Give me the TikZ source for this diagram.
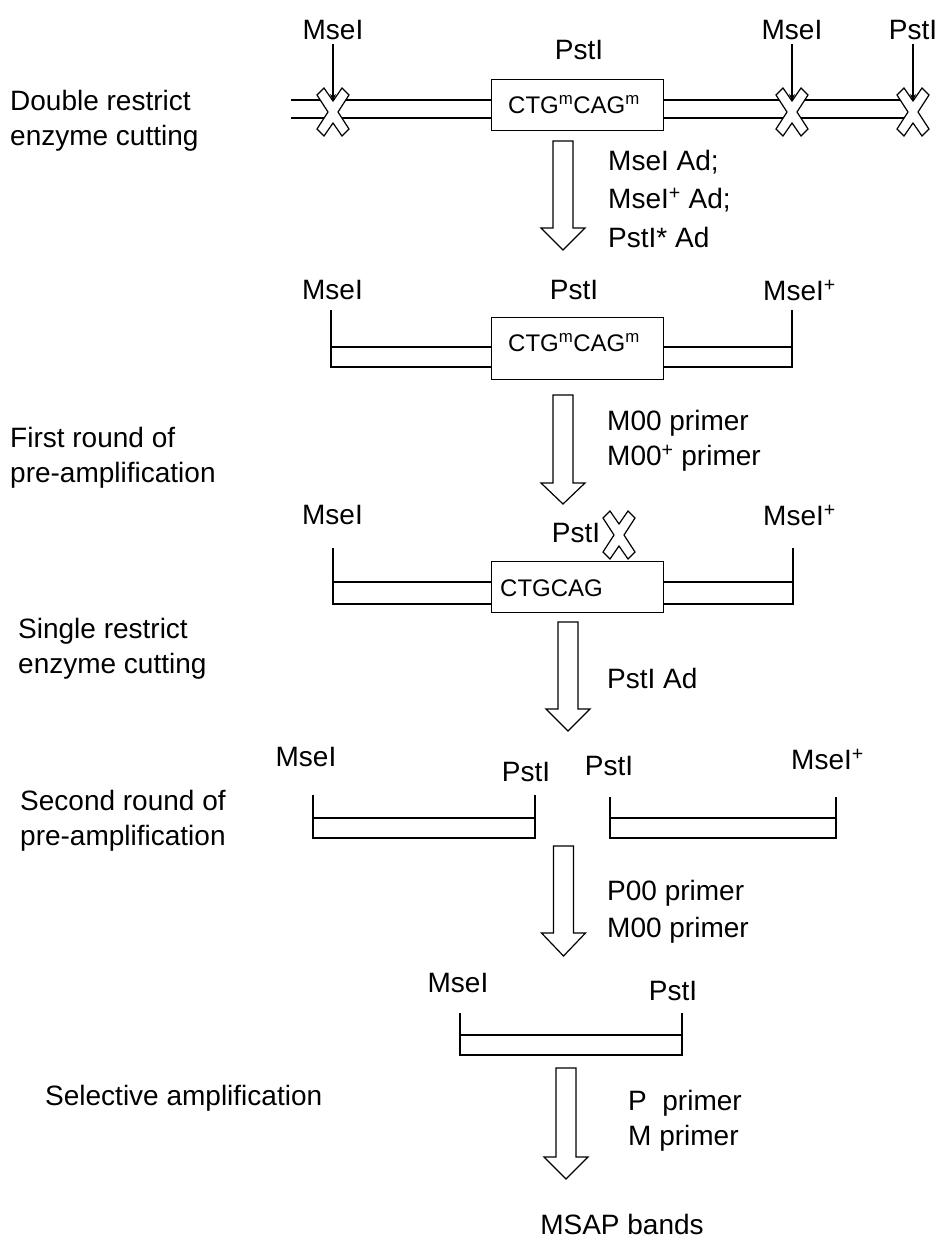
\documentclass[tikz,border=0pt]{standalone}
\usepackage{fontspec}
\setmainfont{Liberation Sans}
\usetikzlibrary{arrows.meta}
\newcommand\xcross[2]{%
  \draw[cross, shift={(#1,#2)}] (-16,-17) -- (-9,-24) -- (0,-11) -- (9,-24) -- (16,-17) -- (5,0)
    -- (16,17) -- (9,24) -- (0,11) -- (-9,24) -- (-16,17) -- (-5,0) -- cycle;}
\newcommand\blockarrow[4]{% x, top, head top, tip
  \draw[blk] ({#1-10},#2) -- ({#1+10},#2) -- ({#1+10},#3) -- ({#1+22},#3) -- (#1,#4)
    -- ({#1-22},#3) -- ({#1-10},#3) -- cycle;}
\begin{document}
\begin{tikzpicture}[x=1pt,y=-1pt,
  lab/.style={font=\fontsize{28}{34}\selectfont, inner sep=0pt},
  side/.style={font=\fontsize{28}{35}\selectfont, align=left, anchor=north west, inner sep=0pt},
  note/.style={font=\fontsize{28}{#1}\selectfont, align=left, anchor=north west, inner sep=0pt},
  seq/.style={font=\fontsize{24}{28}\selectfont, inner sep=0pt, anchor=west},
  seqbox/.style={draw, line width=1.3pt, fill=white, minimum width=172pt, minimum height=#1,
    inner sep=0pt, anchor=north west},
  strand/.style={line width=1.8pt},
  cross/.style={draw, line width=1.2pt, fill=white, line join=miter},
  blk/.style={draw, line width=1.2pt, fill=white, line join=miter},
  pin/.style={line width=1.4pt, -{Stealth[length=7pt,width=6pt]}, shorten <=4pt}]
\useasboundingbox (0,0) rectangle (938,1240);

% ---------- left step labels ----------
\node[side] (s1) at (10,90) {Double restrict\\enzyme cutting};
\node[side] (s2) at (10,427) {First round of\\pre-amplification};
\node[side] (s3) at (18,618) {Single restrict\\enzyme cutting};
\node[side] (s4) at (20,790) {Second round of\\pre-amplification};
\node[side] (s5) at (45,1085) {Selective amplification};

% ---------- row 1 ----------
\draw[strand] (291,100) -- (913,100);
\draw[strand] (291,118) -- (913,118);
\node[seqbox=51pt] (b1) at (491,79) {};
\node[seq] (t1) at (508,104.5) {CTG\textsuperscript{m}CAG\textsuperscript{m}};
\xcross{333}{112}
\xcross{792}{112}
\xcross{913}{112}
\node[lab] (m1) at (333,30) {MseI};
\node[lab] (p1) at (579,50) {PstI};
\node[lab] (m2) at (792,30) {MseI};
\node[lab] (p2) at (913,30) {PstI};
\coordinate (n1) at (333,101);
\coordinate (n2) at (792,101);
\coordinate (n3) at (913,101);
\draw[pin] (m1.south) -- (n1);
\draw[pin] (m2.south) -- (n2);
\draw[pin] (p2.south) -- (n3);

% ---------- arrow 1 ----------
\blockarrow{563}{141}{228}{250}
\node[note=38.5] (a1) at (608,150) {MseI Ad;\\MseI\textsuperscript{+} Ad;\\PstI* Ad};

% ---------- row 2 ----------
\node[lab] (m3) at (332.5,290) {MseI};
\node[lab] (p3) at (574,290) {PstI};
\node[lab, anchor=west] (m4) at (763,290) {MseI\textsuperscript{+}};
\draw[strand] (331,310) -- (331,367) -- (792,367) -- (792,310);
\draw[strand] (331,347) -- (792,347);
\node[seqbox=62pt] (b2) at (491,317) {};
\node[seq] (t2) at (508,343) {CTG\textsuperscript{m}CAG\textsuperscript{m}};

% ---------- arrow 2 ----------
\blockarrow{563}{395}{483}{504}
\node[note=35] (a2) at (607,410) {M00 primer\\M00\textsuperscript{+} primer};

% ---------- row 3 ----------
\node[lab] (m5) at (332.5,515) {MseI};
\node[lab, anchor=west] (m6) at (763,515) {MseI\textsuperscript{+}};
\draw[strand] (333,548) -- (333,604) -- (793,604) -- (793,548);
\draw[strand] (333,582) -- (793,582);
\node[seqbox=51pt] (b3) at (491,561) {};
\node[seq] (t3) at (500,588) {CTGCAG};
\node[lab] (p4) at (576,533) {PstI};
\xcross{619}{535}

% ---------- arrow 3 ----------
\blockarrow{568}{622}{709}{731}
\node[note=35] (a3) at (607,668) {PstI Ad};

% ---------- row 4 ----------
\node[lab] (m7) at (306,757) {MseI};
\node[lab] (p5) at (526,772) {PstI};
\node[lab] (p6) at (609,766) {PstI};
\node[lab, anchor=west] (m8) at (791,759) {MseI\textsuperscript{+}};
\draw[strand] (313,795) -- (313,838) -- (535,838) -- (535,795);
\draw[strand] (313,818) -- (535,818);
\draw[strand] (610,797) -- (610,838) -- (836,838) -- (836,797);
\draw[strand] (610,818) -- (836,818);

% ---------- arrow 4 ----------
\blockarrow{563.5}{846}{933}{956}
\node[note=37] (a4) at (607,880) {P00 primer\\M00 primer};

% ---------- row 5 ----------
\node[lab] (m9) at (458,983) {MseI};
\node[lab] (p7) at (673,991) {PstI};
\draw[strand] (460,1013) -- (460,1055) -- (682,1055) -- (682,1013);
\draw[strand] (460,1035) -- (682,1035);

% ---------- arrow 5 ----------
\blockarrow{566}{1068}{1157}{1179}
\node[note=35] (a5) at (628,1090) {P\ \ primer\\M primer};

\node[lab] (res) at (622,1224) {MSAP bands};
\end{tikzpicture}
\end{document}
